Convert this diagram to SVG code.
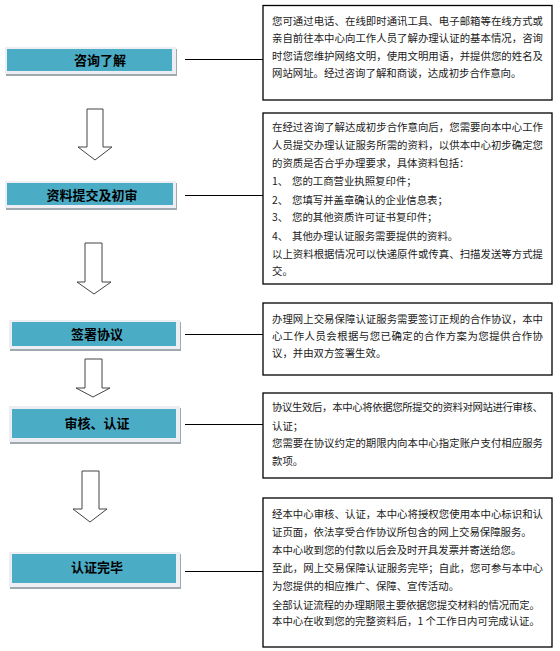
<svg xmlns="http://www.w3.org/2000/svg" width="560" height="651" viewBox="0 0 560 651">
<style>
.sh{fill:#9ea9b0}
.ob{fill:#eceef3}
.ib{fill:#4bacc6}
.lbl{font-family:"Noto Sans CJK SC","Liberation Sans",sans-serif;font-size:13px;font-weight:bold;fill:#000;text-anchor:middle}
.box{fill:#fff;stroke:#000;stroke-width:1.3}
.t{font-family:"Noto Sans CJK SC","Liberation Sans",sans-serif;font-size:10.4px;fill:#1a1a1a}
.con{stroke:#000;stroke-width:1;fill:none}
.arr{fill:#fff;stroke:#444;stroke-width:1}
</style>
<rect width="560" height="651" fill="#fff"/>
<g id="connectors">
<line class="con" x1="185" y1="59.5" x2="263" y2="59.5"/>
<line class="con" x1="185" y1="195.5" x2="263" y2="195.5"/>
<line class="con" x1="185" y1="334.5" x2="263" y2="334.5"/>
<line class="con" x1="185" y1="424.5" x2="263" y2="424.5"/>
<line class="con" x1="185" y1="571.5" x2="263" y2="571.5"/>
<polygon id="arrow1" class="arr" points="87,109 103,109 103,147 112,147 95,160 78,147 87,147"/>
<polygon id="arrow2" class="arr" points="85,243 102,243 102,282 111,282 94,294 77,282 85,282"/>
<polygon id="arrow3" class="arr" points="85,359 102,359 102,388 110,388 93,397 76,388 85,388"/>
<polygon id="arrow4" class="arr" points="82,471 99,471 99,509 107,509 90,522 73,509 82,509"/>
</g>
<g id="n1">
<rect class="sh" x="6" y="49" width="171" height="27"/>
<rect class="ob" x="5" y="47" width="171" height="27"/>
<rect class="ib" x="7" y="49" width="165" height="22"/>
<text class="lbl" x="100" y="64.5">咨询了解</text>
</g>
<g id="n2">
<rect class="sh" x="6" y="183" width="171" height="27"/>
<rect class="ob" x="5" y="181" width="171" height="27"/>
<rect class="ib" x="7" y="183" width="166" height="22"/>
<text class="lbl" x="92" y="199.5">资料提交及初审</text>
</g>
<g id="n3">
<rect class="sh" x="10" y="322" width="171" height="29"/>
<rect class="ob" x="9" y="320" width="171" height="29"/>
<rect class="ib" x="12" y="322" width="164" height="24"/>
<text class="lbl" x="97" y="338.5">签署协议</text>
</g>
<g id="n4">
<rect class="sh" x="10" y="408" width="171" height="36"/>
<rect class="ob" x="9" y="406" width="171" height="36"/>
<rect class="ib" x="12" y="409" width="164" height="29"/>
<text class="lbl" x="97" y="427.5">审核、认证</text>
</g>
<g id="n5">
<rect class="sh" x="10" y="554" width="171" height="35"/>
<rect class="ob" x="9" y="552" width="171" height="35"/>
<rect class="ib" x="12" y="554" width="164" height="29"/>
<text class="lbl" x="97" y="571.5">认证完毕</text>
</g>
<g id="d1">
<rect class="box" x="263" y="5.5" width="289" height="94.5"/>
<text class="t" x="272" y="24.5" textLength="271">您可通过电话、在线即时通讯工具、电子邮箱等在线方式或</text>
<text class="t" x="272" y="42" textLength="271">亲自前往本中心向工作人员了解办理认证的基本情况，咨询</text>
<text class="t" x="272" y="59.5" textLength="271">时您请您维护网络文明，使用文明用语，并提供您的姓名及</text>
<text class="t" x="272" y="76.5">网站网址。经过咨询了解和商谈，达成初步合作意向。</text>
</g>
<g id="d2">
<rect class="box" x="263" y="113" width="289" height="171"/>
<text class="t" x="272" y="131" textLength="271">在经过咨询了解达成初步合作意向后，您需要向本中心工作</text>
<text class="t" x="272" y="149.4" textLength="271">人员提交办理认证服务所需的资料，以供本中心初步确定您</text>
<text class="t" x="272" y="167">的资质是否合乎办理要求，具体资料包括：</text>
<text class="t" x="272" y="184.7">1、</text><text class="t" x="292" y="184.7">您的工商营业执照复印件；</text>
<text class="t" x="272" y="203.7">2、</text><text class="t" x="292" y="203.7">您填写并盖章确认的企业信息表；</text>
<text class="t" x="272" y="221.4">3、</text><text class="t" x="292" y="221.4">您的其他资质许可证书复印件；</text>
<text class="t" x="272" y="239.7">4、</text><text class="t" x="292" y="239.7">其他办理认证服务需要提供的资料。</text>
<text class="t" x="272" y="258" textLength="271">以上资料根据情况可以快递原件或传真、扫描发送等方式提</text>
<text class="t" x="272" y="275.4">交。</text>
</g>
<g id="d3">
<rect class="box" x="263" y="303" width="289" height="72"/>
<text class="t" x="272" y="323" textLength="271">办理网上交易保障认证服务需要签订正规的合作协议，本中</text>
<text class="t" x="272" y="340.4" textLength="271">心工作人员会根据与您已确定的合作方案为您提供合作协</text>
<text class="t" x="272" y="357">议，并由双方签署生效。</text>
</g>
<g id="d4">
<rect class="box" x="263" y="393" width="289" height="85"/>
<text class="t" x="272" y="411" textLength="271">协议生效后，本中心将依据您所提交的资料对网站进行审核、</text>
<text class="t" x="272" y="429.7">认证；</text>
<text class="t" x="272" y="447" textLength="271">您需要在协议约定的期限内向本中心指定账户支付相应服务</text>
<text class="t" x="272" y="464.7">款项。</text>
</g>
<g id="d5">
<rect class="box" x="263" y="498" width="289" height="149"/>
<text class="t" x="272" y="517.7" textLength="271">经本中心审核、认证，本中心将授权您使用本中心标识和认</text>
<text class="t" x="272" y="536">证页面，依法享受合作协议所包含的网上交易保障服务。</text>
<text class="t" x="272" y="553.7">本中心收到您的付款以后会及时开具发票并寄送给您。</text>
<text class="t" x="272" y="572" textLength="271">至此，网上交易保障认证服务完毕；自此，您可参与本中心</text>
<text class="t" x="272" y="590.4">为您提供的相应推广、保障、宣传活动。</text>
<text class="t" x="272" y="608.7" textLength="268">全部认证流程的办理期限主要依据您提交材料的情况而定。</text>
<text class="t" x="272" y="625.4">本中心在收到您的完整资料后，1 个工作日内可完成认证。</text>
</g>
</svg>
